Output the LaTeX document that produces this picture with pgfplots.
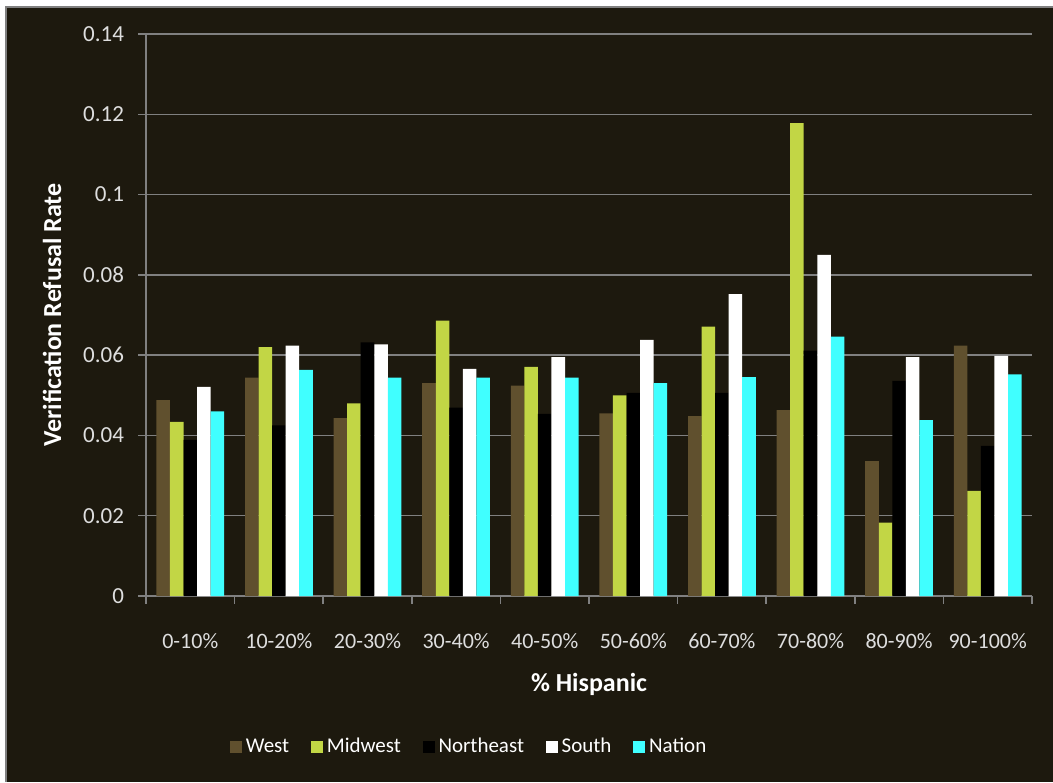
\documentclass[border=0pt]{standalone}
\usepackage{pgfplots}
\usepackage{pgfplotstable}
\pgfplotsset{compat=1.18}
\usepackage{fontspec}
\setmainfont{Carlito}

\definecolor{bgdark}{RGB}{29,25,14}
\definecolor{westc}{RGB}{96,80,46}
\definecolor{midwestc}{RGB}{194,214,69}
\definecolor{nationc}{RGB}{64,255,255}
\definecolor{gridgray}{RGB}{128,128,128}
\definecolor{txt}{RGB}{222,222,222}

% Verification refusal rate by share of Hispanic population
\pgfplotstableread{
idx West   Midwest Northeast South  Nation
0   0.0488 0.0434  0.0389    0.0521 0.0460
1   0.0544 0.0620  0.0425    0.0624 0.0563
2   0.0443 0.0480  0.0632    0.0627 0.0544
3   0.0530 0.0686  0.0469    0.0566 0.0544
4   0.0524 0.0571  0.0454    0.0595 0.0544
5   0.0455 0.0500  0.0506    0.0638 0.0530
6   0.0448 0.0671  0.0506    0.0752 0.0545
7   0.0463 0.1178  0.0611    0.0850 0.0646
8   0.0336 0.0183  0.0536    0.0595 0.0438
9   0.0624 0.0262  0.0374    0.0598 0.0552
}\refusal

\begin{document}
\begin{tikzpicture}
% page background with frame on the left and top
\fill[white] (-73pt,-93pt) rectangle (453.5pt,298pt);
\fill[bgdark] (-70pt,-93pt) rectangle (453.5pt,294.5pt);
\draw[gridgray,line width=1pt] (-70pt,-93pt) -- (-70pt,294.5pt) -- (453.5pt,294.5pt);

\begin{axis}[
  at={(0pt,0pt)}, anchor=south west,
  scale only axis,
  width=443pt, height=281pt,
  ybar=0pt,
  bar width=0.153,
  xmin=-0.5, xmax=9.5,
  ymin=0, ymax=0.14,
  ytick={0,0.02,...,0.14},
  yticklabels={0,0.02,0.04,0.06,0.08,0.1,0.12,0.14},
  xtick={0,...,9},
  xticklabels={0-10\%,10-20\%,20-30\%,30-40\%,40-50\%,50-60\%,60-70\%,70-80\%,80-90\%,90-100\%},
  minor xtick={-0.5,0.5,...,9.5},
  axis x line*=bottom,
  axis y line*=left,
  axis line style={gridgray,line width=0.75pt},
  tick align=outside,
  x tick style={draw=none},
  minor x tick style={draw=gridgray,line width=0.75pt},
  minor tick length=3.8pt,
  y tick style={draw=gridgray,line width=0.75pt},
  major tick length=4pt,
  ymajorgrids,
  grid style={gridgray,line width=0.75pt},
  xticklabel style={font=\fontsize{11}{13}\selectfont, text=txt, anchor=center, yshift=-18.5pt},
  yticklabel style={font=\fontsize{11.5}{13}\selectfont, text=txt, xshift=-3.5pt},
  xlabel={\% Hispanic},
  ylabel={Verification Refusal Rate},
  every axis x label/.style={at={(axis description cs:0.5,0)}, yshift=-44pt, anchor=center, font=\bfseries\fontsize{13}{15}\selectfont, text=white},
  every axis y label/.style={at={(axis description cs:0,0.5)}, xshift=-47pt, rotate=90, anchor=center, font=\bfseries\fontsize{13}{15}\selectfont, text=white},
  legend columns=5,
  legend style={at={(0.366,-0.269)}, anchor=center, draw=none, fill=none,
    text=white, font=\fontsize{10.5}{12}\selectfont,
    /tikz/every even column/.append style={column sep=9pt}},
  legend image code/.code={\fill[#1] (0pt,-2.9pt) rectangle (5.8pt,2.9pt);},
  clip=false,
]
\addplot[fill=westc, draw=none] table[x=idx, y=West] {\refusal};
\addplot[fill=midwestc, draw=none] table[x=idx, y=Midwest] {\refusal};
\addplot[fill=black, draw=none] table[x=idx, y=Northeast] {\refusal};
\addplot[fill=white, draw=none] table[x=idx, y=South] {\refusal};
\addplot[fill=nationc, draw=none] table[x=idx, y=Nation] {\refusal};
\legend{West,Midwest,Northeast,South,Nation}
\end{axis}
\pgfresetboundingbox
\path (-73pt,-93pt) rectangle (453.5pt,298pt);
\end{tikzpicture}
\end{document}
